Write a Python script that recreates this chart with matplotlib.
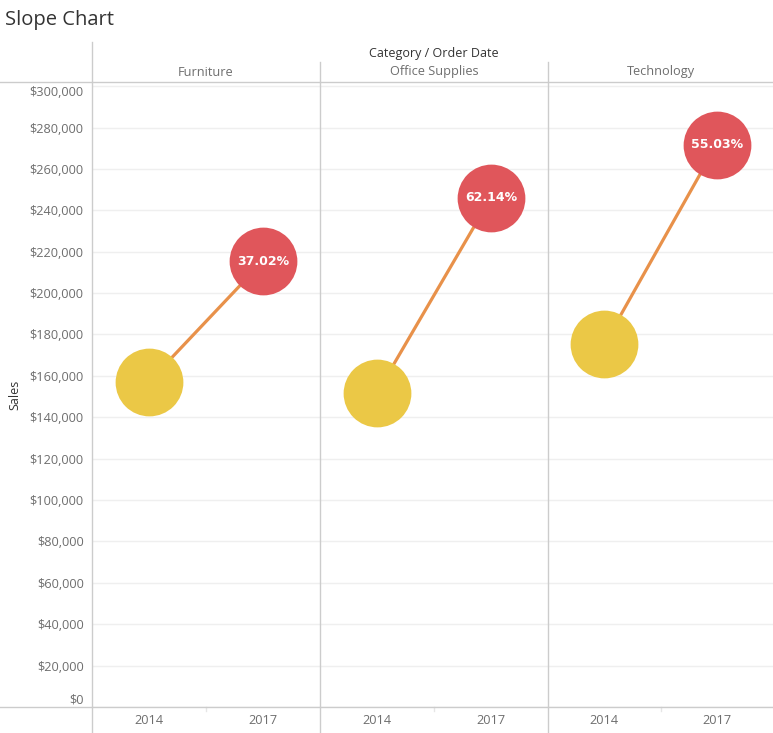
import matplotlib.pyplot as plt
from matplotlib.lines import Line2D
from matplotlib import rcParams

rcParams['font.family'] = ['Open Sans', 'DejaVu Sans']

categories = ['Furniture', 'Office Supplies', 'Technology']
years = ['2014', '2017']
sales_2014 = [157193, 151776, 175278]
sales_2017 = [215387, 246097, 271731]
yticks = list(range(0, 300001, 20000))

W, H = 773, 733
fig = plt.figure(figsize=(W / 100, H / 100), dpi=100)

def fx(px):
    return px / W

def fy(py):
    return 1 - py / H

top_px, bot_px = 82, 707
panel_x = [92, 320, 548, 773]
ymax = 302000
grey = '#6e6e6e'
line_col = '#cccccc'

for i, cat in enumerate(categories):
    ax = fig.add_axes([fx(panel_x[i]), fy(bot_px), fx(panel_x[i + 1] - panel_x[i]), (bot_px - top_px) / H])
    ax.set_xlim(-0.5, 1.5)
    ax.set_ylim(0, ymax)
    for s in ax.spines.values():
        s.set_visible(False)
    ax.set_yticks(yticks)
    ax.grid(axis='y', color='#efefef', linewidth=1)
    ax.set_axisbelow(True)
    ax.set_xticks([])
    ax.tick_params(axis='y', length=0)
    if i == 0:
        ax.set_yticklabels(['${:,}'.format(v) for v in yticks], color=grey, fontsize=9.2)
        labs = ax.get_yticklabels()
        labs[0].set_va('bottom')
        labs[-1].set_va('top')
        ax.tick_params(axis='y', pad=6)
    else:
        ax.set_yticklabels([])
    a, b = sales_2014[i], sales_2017[i]
    ax.plot([0, 1], [a, b], color='#e8914a', linewidth=2.3, zorder=2)
    ax.scatter([0], [a], s=2380, color='#ebc846', zorder=3, linewidths=0)
    ax.scatter([1], [b], s=2380, color='#e0565b', zorder=3, linewidths=0)
    ax.text(1, b, '{:.2f}%'.format((b / a - 1) * 100), color='white', fontsize=9,
            fontweight='bold', ha='center', va='center', zorder=4, family=['DejaVu Sans'])
    cx = (panel_x[i] + panel_x[i + 1]) / 2
    fig.text(fx(cx), fy(72), cat, color=grey, fontsize=9.2, ha='center', va='center')
    for j, yr in enumerate(years):
        xp = panel_x[i] + (panel_x[i + 1] - panel_x[i]) * (0.25 + 0.5 * j)
        fig.text(fx(xp), fy(720), yr, color=grey, fontsize=9.2, ha='center', va='center')
    # small tick between the years
    fig.add_artist(Line2D([fx(cx), fx(cx)], [fy(707), fy(711)], color='#e6e6e6', linewidth=1))

# frame lines
fig.add_artist(Line2D([0, 1], [fy(82), fy(82)], color=line_col, linewidth=1))
fig.add_artist(Line2D([0, 1], [fy(707), fy(707)], color=line_col, linewidth=1))
for xp in panel_x[:3]:
    top = 42 if xp == 92 else 62
    fig.add_artist(Line2D([fx(xp), fx(xp)], [fy(top), 0], color=line_col, linewidth=1))

fig.text(fx(5), fy(20), 'Slope Chart', fontsize=14.5, color='#333333', ha='left', va='center')
fig.text(fx(434), fy(53), 'Category / Order Date', fontsize=9, color='#333333', ha='center', va='center')
fig.text(fx(15), fy(395), 'Sales', fontsize=9, color='#333333', rotation=90, ha='center', va='center')

fig.savefig('out.png', dpi=100)
